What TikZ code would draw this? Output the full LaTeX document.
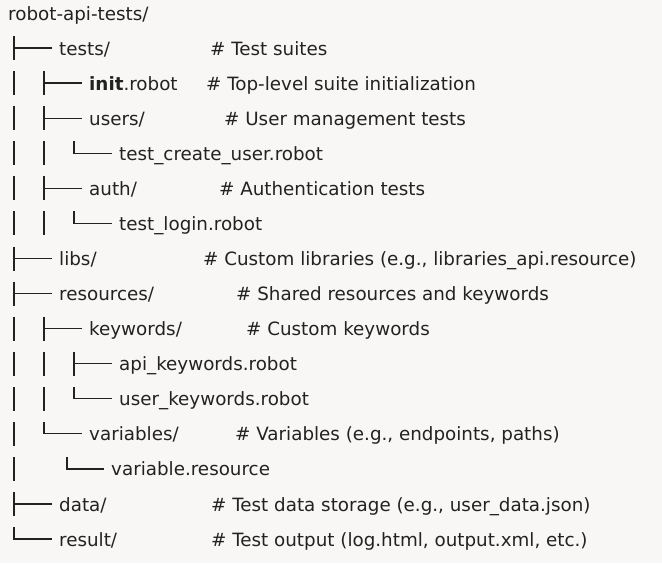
\documentclass[tikz,border=0pt]{standalone}
\usepackage{fontspec}
\setmainfont{DejaVu Sans}
\usetikzlibrary{positioning,calc}
\definecolor{Ink}{RGB}{34,34,34}
\definecolor{Paper}{RGB}{248,247,245}

\begin{document}
\begin{tikzpicture}[x=1pt,y=-1pt,
 f/.style={anchor=base west,inner sep=0pt,text=Ink,font=\fontsize{18.3}{20}\selectfont},
 br/.style={draw=Ink,line width=1.3pt}]
\fill[Paper] (0,0) rectangle (662,563);
\useasboundingbox (0,0) rectangle (662,563);
% entries
\node[f] (root) at (8,20) {robot-api-tests/};
\node[f] (tests) at (59,55.1) {tests/};
\node[f] (init) at (89,90.1) {\textbf{init}.robot};
\node[f] (users) at (89,125.2) {users/};
\node[f] (createuser) at (119,160.3) {test\_create\_user.robot};
\node[f] (auth) at (89,195.4) {auth/};
\node[f] (login) at (119,230.4) {test\_login.robot};
\node[f] (libs) at (59,265.5) {libs/};
\node[f] (resources) at (59,300.6) {resources/};
\node[f] (keywords) at (89,335.6) {keywords/};
\node[f] (apikw) at (119,370.7) {api\_keywords.robot};
\node[f] (userkw) at (119,405.8) {user\_keywords.robot};
\node[f] (variables) at (89,440.8) {variables/};
\node[f] (varres) at (111,475.9) {variable.resource};
\node[f] (data) at (59,511) {data/};
\node[f] (result) at (59,546.1) {result/};
% comments
\node[f] (ctests) at (210,55.1) {\# Test suites};
\node[f] (cinit) at (206,90.1) {\# Top-level suite initialization};
\node[f] (cusers) at (224,125.2) {\# User management tests};
\node[f] (cauth) at (219,195.4) {\# Authentication tests};
\node[f] (clibs) at (203,265.5) {\# Custom libraries (e.g., libraries\_api.resource)};
\node[f] (cresources) at (236,300.6) {\# Shared resources and keywords};
\node[f] (ckeywords) at (246,335.6) {\# Custom keywords};
\node[f] (cvariables) at (235,440.8) {\# Variables (e.g., endpoints, paths)};
\node[f] (cdata) at (211,511) {\# Test data storage (e.g., user\_data.json)};
\node[f] (cresult) at (211,546.1) {\# Test output (log.html, output.xml, etc.)};
% tree lines
\foreach \x/\n in {14/tests,14/libs,14/resources,14/data,44/init,44/users,44/auth,44/keywords,74/apikw}
  \draw[br] (\x,0 |- \n.base) ++(0,-19) -- ++(0,24)
    (\x,0 |- \n.base) ++(0,-7) -- ([xshift=-7pt,yshift=7pt]\n.base west);
\foreach \x/\n in {14/result,44/variables,74/createuser,74/login,74/userkw,67/varres}
  \draw[br] (\x,0 |- \n.base) ++(0,-19) |- ([xshift=-7pt,yshift=7pt]\n.base west);
\foreach \x/\n in {14/init,14/users,14/createuser,14/auth,14/login,14/keywords,14/apikw,14/userkw,14/variables,14/varres,44/createuser,44/login,44/apikw,44/userkw}
  \draw[br] (\x,0 |- \n.base) ++(0,-19) -- ++(0,24);
\end{tikzpicture}
\end{document}
